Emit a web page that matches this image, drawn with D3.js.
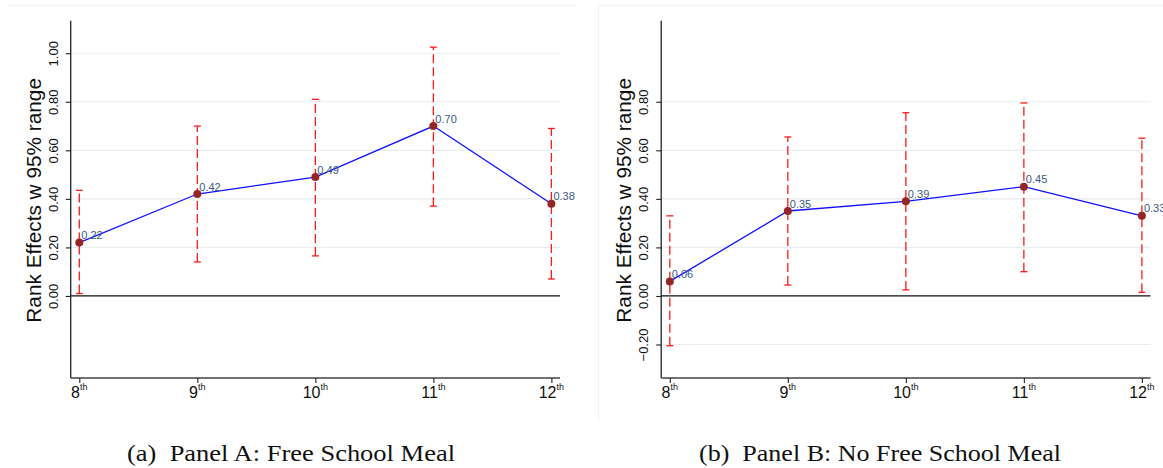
<!DOCTYPE html>
<html>
<head>
<meta charset="utf-8">
<script src="https://cdn.jsdelivr.net/npm/d3@7"></script>
<style>
  html, body { margin: 0; padding: 0; background: #fff; }
  svg { display: block; }
</style>
</head>
<body>
<svg id="chart" width="1163" height="468"></svg>
<script>
// Grades on the x axis
const grades = [8, 9, 10, 11, 12];
const gradeSuffix = "th";

// Panel A: Free School Meal — point estimates and 95% bounds
const estA  = [0.22, 0.42, 0.49, 0.70, 0.38];
const lowA  = [0.01, 0.14, 0.165, 0.37, 0.07];
const highA = [0.435, 0.70, 0.81, 1.025, 0.69];
const ticksA = [0, 0.2, 0.4, 0.6, 0.8, 1.0];

// Panel B: No Free School Meal
const estB  = [0.06, 0.35, 0.39, 0.45, 0.33];
const lowB  = [-0.205, 0.045, 0.025, 0.10, 0.015];
const highB = [0.33, 0.655, 0.755, 0.795, 0.65];
const ticksB = [-0.2, 0, 0.2, 0.4, 0.6, 0.8];

const yTitle = "Rank Effects w 95% range";
const captions = ["(a)\u00a0\u00a0Panel A: Free School Meal", "(b)\u00a0\u00a0Panel B: No Free School Meal"];

const svg = d3.select("#chart");
const fmt = d3.format(".2f");

// Light frame lines around each graph region
svg.append("line").attr("x1", 8).attr("x2", 576).attr("y1", 5.5).attr("y2", 5.5)
  .attr("stroke", "#eef2f4").attr("stroke-width", 1);
svg.append("line").attr("x1", 598).attr("x2", 1163).attr("y1", 5.5).attr("y2", 5.5)
  .attr("stroke", "#eef2f4").attr("stroke-width", 1);
svg.append("line").attr("x1", 598.5).attr("x2", 598.5).attr("y1", 5.5).attr("y2", 421)
  .attr("stroke", "#eef2f4").attr("stroke-width", 1);

function drawPanel(offsetX, est, low, high, ticks, caption, captionX, captionW) {
  const g = svg.append("g").attr("transform", `translate(${offsetX},0)`);
  const left = 70.7, right = 560, top = 20.7, bottom = 378;

  const x = d3.scaleLinear().domain([7.927, 12.073]).range([left, right]);
  const y = d3.scaleLinear().domain([-0.338, 1.134]).range([bottom, top]);

  // Horizontal gridlines
  g.selectAll("line.grid").data(ticks.filter(t => t !== 0)).enter().append("line")
    .attr("x1", left).attr("x2", right)
    .attr("y1", d => y(d)).attr("y2", d => y(d))
    .attr("stroke", "#e6eef1").attr("stroke-width", 1.2);

  // Reference line at zero
  g.append("line").attr("x1", left).attr("x2", right)
    .attr("y1", y(0)).attr("y2", y(0))
    .attr("stroke", "#111").attr("stroke-width", 1.2);

  // Y axis
  const yAxis = d3.axisLeft(y).tickValues(ticks).tickFormat(fmt).tickSize(5).tickSizeOuter(0);
  const ya = g.append("g").attr("transform", `translate(${left},0)`).call(yAxis);
  ya.select(".domain").attr("d", `M0,${top}V${bottom}`).attr("stroke", "#222").attr("stroke-width", 1.3);
  ya.selectAll(".tick line").attr("stroke", "#222").attr("stroke-width", 1.1);
  ya.selectAll(".tick text")
    .attr("x", null).attr("dy", null)
    .attr("transform", "translate(-13,0) rotate(-90)")
    .attr("text-anchor", "middle")
    .attr("font-family", "Liberation Sans, Arial, sans-serif")
    .attr("font-size", 13).attr("fill", "#111");

  // X axis
  const xAxis = d3.axisBottom(x).tickValues(grades).tickFormat("").tickSize(5).tickSizeOuter(0);
  const xa = g.append("g").attr("transform", `translate(0,${bottom})`).call(xAxis);
  xa.select(".domain").attr("d", `M${left},0H${right}`).attr("stroke", "#444").attr("stroke-width", 1.3);
  xa.selectAll(".tick line").attr("stroke", "#222").attr("stroke-width", 1.1);

  // Ordinal tick labels with superscript suffix
  const lbl = g.selectAll("text.xlab").data(grades).enter().append("text")
    .attr("class", "xlab")
    .attr("x", d => x(d)).attr("y", 398)
    .attr("text-anchor", "middle")
    .attr("font-family", "Liberation Sans, Arial, sans-serif")
    .attr("font-size", 16).attr("fill", "#111");
  lbl.append("tspan").text(d => d);
  lbl.append("tspan").attr("dy", -8).attr("font-size", 9).text(gradeSuffix);

  // Y axis title
  g.append("text")
    .attr("transform", `translate(40.5,${(top + bottom) / 2 + 1}) rotate(-90)`)
    .attr("text-anchor", "middle")
    .attr("font-family", "Liberation Sans, Arial, sans-serif")
    .attr("font-size", 20.8).attr("fill", "#111")
    .text(yTitle);

  // Confidence intervals: dashed red spikes with caps
  const idx = d3.range(grades.length);
  g.selectAll("line.ci").data(idx).enter().append("line")
    .attr("x1", i => x(grades[i])).attr("x2", i => x(grades[i]))
    .attr("y1", i => y(low[i])).attr("y2", i => y(high[i]))
    .attr("stroke", "#ff1a1a").attr("stroke-width", 1.3)
    .attr("stroke-dasharray", "9,4");
  [low, high].forEach(arr => {
    g.selectAll(null).data(idx).enter().append("line")
      .attr("x1", i => x(grades[i]) - 3.5).attr("x2", i => x(grades[i]) + 3.5)
      .attr("y1", i => y(arr[i])).attr("y2", i => y(arr[i]))
      .attr("stroke", "#ff1a1a").attr("stroke-width", 1.3);
  });

  // Connected estimates
  const line = d3.line().x(i => x(grades[i])).y(i => y(est[i]));
  g.append("path").datum(idx).attr("d", line)
    .attr("fill", "none").attr("stroke", "#1010ff").attr("stroke-width", 1.3);

  g.selectAll("circle.pt").data(idx).enter().append("circle")
    .attr("cx", i => x(grades[i])).attr("cy", i => y(est[i])).attr("r", 4)
    .attr("fill", "#962626");

  // Value labels
  g.selectAll("text.val").data(idx).enter().append("text")
    .attr("x", i => x(grades[i]) + 2).attr("y", i => y(est[i]) - 3.5)
    .attr("font-family", "Liberation Sans, Arial, sans-serif")
    .attr("font-size", 11).attr("fill", "#3a5a85")
    .text(i => fmt(est[i]));

  // Caption below the panel
  svg.append("text")
    .attr("x", captionX).attr("y", 461)
    .attr("text-anchor", "middle")
    .attr("font-family", "Liberation Serif, Times New Roman, serif")
    .attr("font-size", 24).attr("fill", "#111")
    .attr("textLength", captionW).attr("lengthAdjust", "spacingAndGlyphs")
    .text(caption);
}

drawPanel(0, estA, lowA, highA, ticksA, captions[0], 291, 328);
drawPanel(590.5, estB, lowB, highB, ticksB, captions[1], 880, 362);
</script>
</body>
</html>
